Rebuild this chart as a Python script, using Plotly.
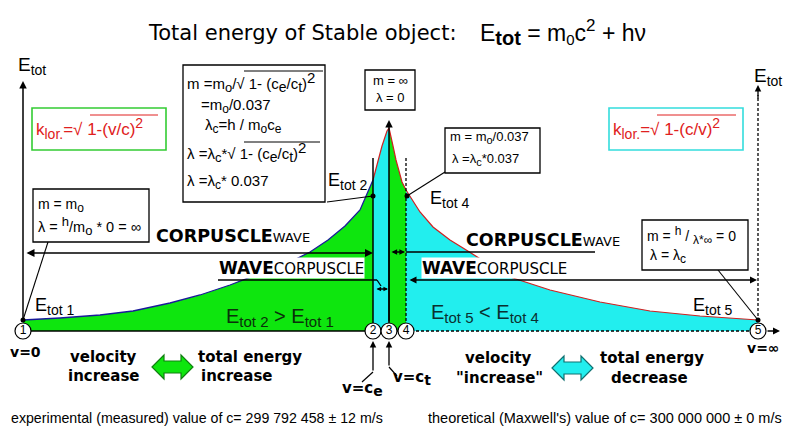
import plotly.graph_objects as go

ARIAL = "Liberation Sans, Arial, sans-serif"
VERD = "DejaVu Sans, Verdana, sans-serif"
GREEN = "#0ee60e"
CYAN = "#22eeee"

# ---------------- data (diagram units: x to the right, y downward) ----------------
BASE_Y = 331
left_curve_x = [23, 60, 100, 133, 170, 200, 230, 263, 290, 310, 328, 345, 360, 373]
left_curve_y = [320, 318, 315, 311, 303, 295, 285, 272, 262, 252, 240, 226, 210, 180]
peak_left_x = [373, 376, 379, 382, 385, 387, 389]
peak_left_y = [180, 168, 157, 146, 137, 131, 128]
peak_right_x = [389, 391, 393, 396, 399, 402, 406]
peak_right_y = [128, 136, 146, 160, 172, 182, 190]
right_curve_x = [406, 420, 433, 450, 463, 477, 490, 513, 550, 600, 650, 700, 758]
right_curve_y = [190, 212, 227, 240, 248, 257, 265, 278, 290, 302, 311, 316, 320]

state_x = [23, 373, 389, 406, 758]
state_labels = ["1", "2", "3", "4", "5"]
energy_pts_x = [23, 373, 407, 758]
energy_pts_y = [320, 196, 196, 320]

fig = go.Figure()

def area(xs, ys, color):
    fig.add_trace(go.Scatter(x=xs, y=ys, fill="toself", fillcolor=color, mode="lines",
                             line=dict(width=0, color=color), hoverinfo="skip"))

def line(x0, y0, x1, y1, w=1.4, dash="solid", color="black"):
    fig.add_trace(go.Scatter(x=[x0, x1], y=[y0, y1], mode="lines",
                             line=dict(color=color, width=w, dash=dash), hoverinfo="skip"))

area([23] + left_curve_x + [373], [BASE_Y] + left_curve_y + [BASE_Y], GREEN)
area(peak_left_x + [389, 373], peak_left_y + [BASE_Y, BASE_Y], CYAN)
area(peak_right_x + [406, 389], peak_right_y + [BASE_Y, BASE_Y], GREEN)
area(right_curve_x + [758, 406], right_curve_y + [BASE_Y, BASE_Y], CYAN)

fig.add_trace(go.Scatter(x=left_curve_x, y=left_curve_y, mode="lines",
                         line=dict(color="#1a1a9a", width=1.3), hoverinfo="skip"))
fig.add_trace(go.Scatter(x=peak_left_x + peak_right_x + right_curve_x,
                         y=peak_left_y + peak_right_y + right_curve_y, mode="lines",
                         line=dict(color="#d02020", width=1.2), hoverinfo="skip"))

shapes = []
ann = []

def sb(s, px=12):
    return f"<sub><span style='font-size:{px}px'>{s}</span></sub>"

def sp(s, px=11):
    return f"<sup><span style='font-size:{px}px'>{s}</span></sup>"

def arrow(hx, hy, tx, ty, both=False, w=1.4, size=1.0):
    ann.append(dict(x=hx, y=hy, ax=tx, ay=ty, xref="x", yref="y", axref="x", ayref="y",
                    text="", showarrow=True, arrowhead=2, arrowsize=size, arrowwidth=w,
                    arrowcolor="black", arrowside="end+start" if both else "end",
                    startarrowhead=2, startarrowsize=size))

def txt(x, y, s, size=13, color="black", family=ARIAL, xanchor="left", bg=None):
    d = dict(x=x, y=y, xref="x", yref="y", text=s, showarrow=False, xanchor=xanchor,
             yanchor="middle", font=dict(size=size, color=color, family=family))
    if bg:
        d["bgcolor"] = bg
        d["borderpad"] = 0
    ann.append(d)

def box(x0, y0, x1, y1, color="black", w=1.3):
    shapes.append(dict(type="rect", xref="x", yref="y", x0=x0, y0=y0, x1=x1, y1=y1,
                       line=dict(color=color, width=w), fillcolor="white", layer="above"))

def sline(x0, y0, x1, y1, w=1.0, color="black"):
    shapes.append(dict(type="line", xref="x", yref="y", x0=x0, y0=y0, x1=x1, y1=y1,
                       line=dict(color=color, width=w), layer="above"))

DASH = "3px,2px"
# structural lines (traces, below the numbered circles)
line(758, BASE_Y, 758, 95, dash=DASH, w=1.3)
line(373, 158, 373, BASE_Y, w=1.5)
line(406, 158, 406, BASE_Y, w=1.3, dash=DASH)
line(389, 200, 389, BASE_Y, w=1.5)
line(23, BASE_Y, 406, BASE_Y, w=1.6)
line(406, BASE_Y, 751, BASE_Y, w=1.3, dash=DASH)
line(406, 252, 595, 252, w=1.6)
line(218, 280, 377, 280, w=1.3)
line(377, 280, 381, 286, w=1.3)

# pointer lines
line(48, 242, 23, 320, w=1.1)
line(327, 202, 373, 196, w=1.1)
line(445, 172, 407, 196, w=1.1)
line(718, 270, 758, 320, w=1.1)
line(373, 372, 362, 382, w=1.2)
line(389, 367, 397, 376, w=1.2)

# arrows
arrow(23, 81, 23, 323, w=1.5)
arrow(758, 85, 758, 100, w=1.3)
arrow(389, 120, 389, 323, w=1.5)
arrow(780, BASE_Y, 766, BASE_Y, w=1.4)
arrow(373, 253, 25, 253, both=True, w=1.6)
arrow(405, 252, 390, 252, both=True, w=1.4, size=0.8)
arrow(388, 289, 375, 289, both=True, w=1.3, size=0.7)
arrow(757, 280, 408, 280, both=True, w=1.4)
arrow(373, 341, 373, 372, w=1.3)
arrow(389, 341, 389, 367, w=1.3)

# boxes
box(183, 65, 325, 202)
box(365, 70, 415, 110)
box(445, 128, 540, 173)
box(33, 189, 149, 242)
box(642, 220, 748, 270)
box(32, 108, 166, 150, color="#33cc33", w=1.6)
box(609, 108, 743, 150, color="#33dddd", w=1.6)

# radical overbars
sline(244, 71, 323, 71)
sline(244, 142, 320, 142)
sline(90, 115, 158, 115, color="#e02020")
sline(657, 115, 736, 115, color="#e02020")

# double arrows (green / cyan)
shapes.append(dict(type="path", xref="x", yref="y",
                   path="M152,367 L164,355 L164,361 L181,361 L181,355 L193,367 L181,379 L181,373 L164,373 L164,379 Z",
                   fillcolor=GREEN, line=dict(color="#108010", width=1.2), layer="above"))
shapes.append(dict(type="path", xref="x", yref="y",
                   path="M552,368 L564,356 L564,362 L581,362 L581,356 L593,368 L581,380 L581,374 L564,374 L564,380 Z",
                   fillcolor=CYAN, line=dict(color="#107070", width=1.2), layer="above"))

# dots and numbered states
fig.add_trace(go.Scatter(x=energy_pts_x, y=energy_pts_y, mode="markers",
                         marker=dict(size=5, color="black"), hoverinfo="skip"))
fig.add_trace(go.Scatter(x=state_x, y=[BASE_Y] * len(state_x), mode="markers+text",
                         text=state_labels, textposition="middle center",
                         textfont=dict(size=12, family=ARIAL, color="black"),
                         marker=dict(size=16, color="white", line=dict(color="black", width=1.2)),
                         hoverinfo="skip"))

# ---------------- texts ----------------
txt(302, 33, "Total energy of Stable object:", size=21, family=VERD, xanchor="center")
txt(478, 32, "E" + sb("<b>tot</b>", 20) + " = m" + sb("0", 15) + "c" + sp("2", 17) + " + hν", size=23)

txt(16, 66, "E" + sb("tot", 14), size=19)
txt(752, 77, "E" + sb("tot", 14), size=19)

txt(34, 128, "k" + sb("lor.", 14) + "=√ 1-(v/c)" + sp("2", 14), size=17, color="#e02020")
txt(611, 128, "k" + sb("lor.", 14) + "=√ 1-(c/v)" + sp("2", 14), size=17, color="#e02020")

txt(185, 82, "m =m" + sb("o", 13) + "/√ 1- (c" + sb("e", 14) + "/c" + sb("t", 14) + ")" + sp("2", 15), size=15)
txt(199, 106, "=m" + sb("o") + "/0.037", size=15)
txt(203, 126, "λ" + sb("c") + "=h / m" + sb("o") + "c" + sb("e"), size=15)
txt(185, 152, "λ =λ" + sb("c", 13) + "*√ 1- (c" + sb("e", 14) + "/c" + sb("t", 14) + ")" + sp("2", 15), size=15)
txt(185, 182, "λ =λ" + sb("c") + "* 0.037", size=15)

txt(390, 80, "m = ∞", size=13, xanchor="center")
txt(390, 97, "λ = 0", size=13, xanchor="center")

txt(448, 137, "m = m" + sb("o", 11) + "/0.037", size=13)
txt(450, 159, "λ =λ" + sb("c", 11) + "*0.037", size=13)

txt(36, 205, "m = m" + sb("o", 12), size=14)
txt(36, 226, "λ = " + sp("h", 13) + "/m" + sb("o", 13) + " * 0 = ∞", size=14.5)

txt(645, 235, "m = " + sp("h", 12) + " / " + sb("λ*∞", 12) + " = 0", size=14)
txt(648, 256, "λ = λ" + sb("c", 12), size=14)

txt(326, 181, "E" + sb("tot 2", 14), size=18)
txt(428, 199, "E" + sb("tot 4", 14), size=18)
txt(33, 306, "E" + sb("tot 1", 14), size=18)
txt(691, 306, "E" + sb("tot 5", 14), size=18)

txt(280, 317, "E" + sb("tot 2", 15) + " > E" + sb("tot 1", 15), size=20, color="#0a300a", xanchor="center")
txt(485, 313, "E" + sb("tot 5", 15) + " < E" + sb("tot 4", 15), size=20, color="#0a3030", xanchor="center")

txt(154, 236, "<b>CORPUSCLE</b><span style='font-size:13px'>WAVE</span>", size=17.5, family=VERD)
txt(464, 240, "<b>CORPUSCLE</b><span style='font-size:13px'>WAVE</span>", size=17.5, family=VERD)
txt(218, 268, "<b>WAVE</b><span style='font-size:15px'>CORPUSCLE</span>", size=17, family=VERD, bg="white")
txt(421, 268, "<b>WAVE</b><span style='font-size:15px'>CORPUSCLE</span>", size=17, family=VERD, bg="white")

txt(25, 352, "<b>v=0</b>", size=14, family=VERD, xanchor="center")
txt(763, 348, "<b>v=∞</b>", size=14, family=VERD, xanchor="center")
txt(362, 389, "<b>v=c" + sb("e", 14) + "</b>", size=15, family=VERD, xanchor="center")
txt(412, 378, "<b>v=c" + sb("t", 14) + "</b>", size=15, family=VERD, xanchor="center")

txt(103, 357, "<b>velocity</b>", size=15, family=VERD, xanchor="center")
txt(104, 376, "<b>increase</b>", size=15, family=VERD, xanchor="center")
txt(250, 357, "<b>total energy</b>", size=15, family=VERD, xanchor="center")
txt(237, 376, "<b>increase</b>", size=15, family=VERD, xanchor="center")
txt(498, 358, "<b>velocity</b>", size=15, family=VERD, xanchor="center")
txt(499, 378, "<b>\"increase\"</b>", size=15, family=VERD, xanchor="center")
txt(652, 358, "<b>total energy</b>", size=15, family=VERD, xanchor="center")
txt(649, 378, "<b>decrease</b>", size=15, family=VERD, xanchor="center")

txt(9, 418, "experimental (measured) value of c= 299 792 458 ± 12 m/s", size=14.2)
txt(426, 418, "theoretical (Maxwell's) value of c= 300 000 000 ± 0 m/s", size=14.5)

fig.update_layout(
    width=800, height=440, autosize=False,
    margin=dict(l=0, r=0, t=0, b=0),
    paper_bgcolor="white", plot_bgcolor="white",
    showlegend=False,
    xaxis=dict(range=[0, 800], visible=False, fixedrange=True),
    yaxis=dict(range=[440, 0], visible=False, fixedrange=True),
    shapes=shapes, annotations=ann,
)

fig.write_html("out.html", config={"displayModeBar": False},
               post_script="document.body.style.margin='0px';")
